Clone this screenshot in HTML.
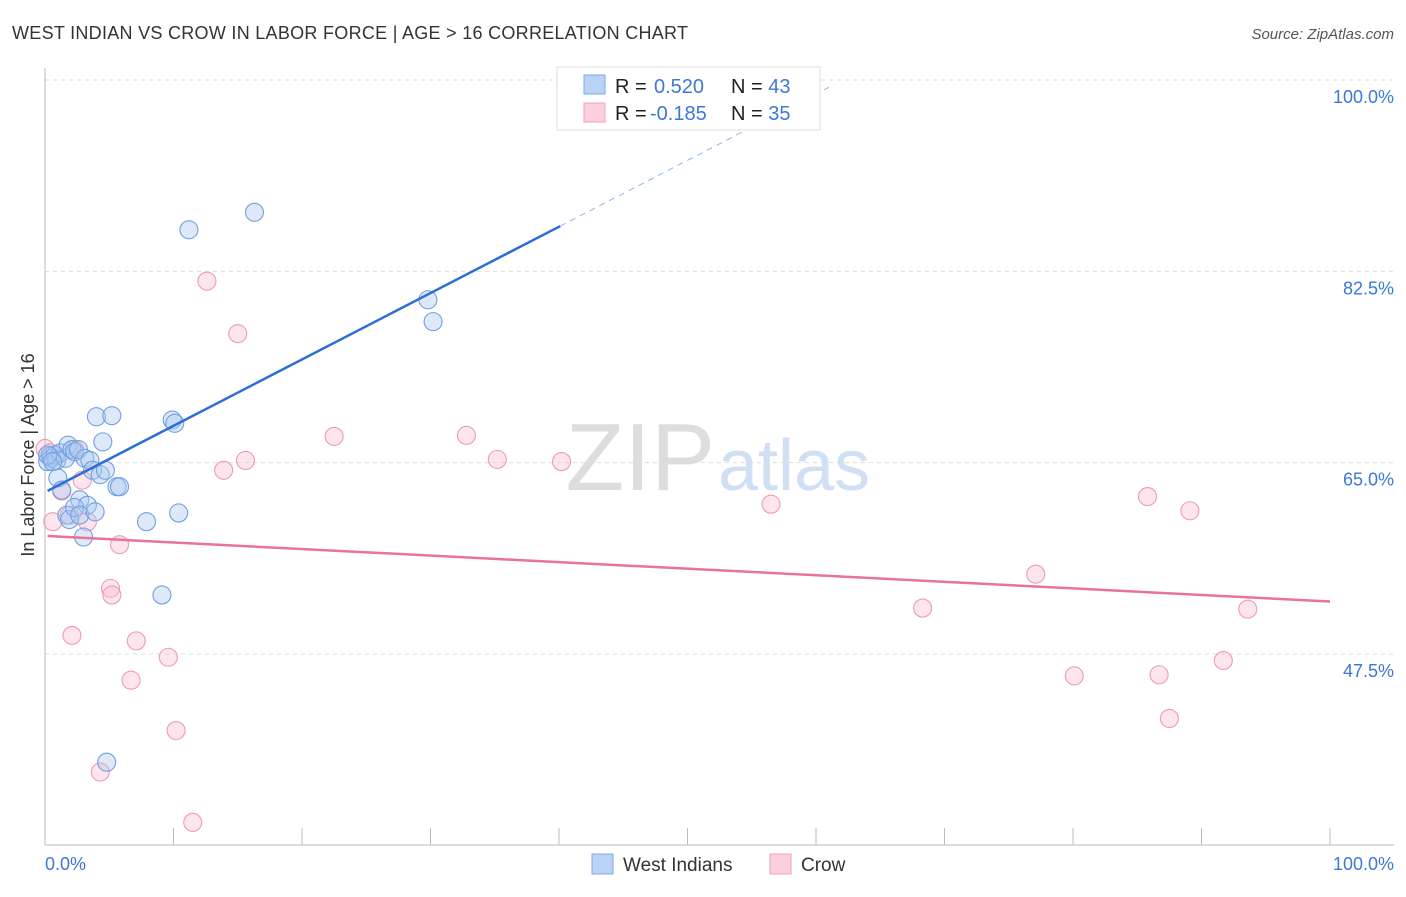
<!DOCTYPE html>
<html><head><meta charset="utf-8"><style>
body{margin:0;background:#fff;font-family:"Liberation Sans",sans-serif;}
svg text{font-family:"Liberation Sans",sans-serif;}
</style></head><body>
<svg id="chart" width="1406" height="892" xmlns="http://www.w3.org/2000/svg">
<text x="12" y="39" font-size="18" fill="#333" textLength="676">WEST INDIAN VS CROW IN LABOR FORCE | AGE &gt; 16 CORRELATION CHART</text>
<text x="1394" y="39" font-size="15" fill="#555" font-style="italic" text-anchor="end">Source: ZipAtlas.com</text>
<text x="715" y="490" font-size="96" fill="#ddd" text-anchor="end" font-family="Liberation Serif">ZIP</text>
<text x="718" y="490" font-size="72" fill="#cfe0f5">atlas</text>
<g id="grid"></g>
<g id="axes"></g>
<g id="marks"></g>
<text transform="translate(34,455) rotate(-90)" font-size="18" fill="#333" text-anchor="middle">In Labor Force | Age &gt; 16</text>
<text x="45" y="870" font-size="18" fill="#3b78d8">0.0%</text>
<text x="1394" y="870" font-size="18" fill="#3b78d8" text-anchor="end">100.0%</text>
<g>
<rect x="557" y="67" width="263" height="63" fill="#fff" stroke="#ddd"/>
<rect x="584" y="75" width="21" height="19" fill="#b9d3f5" stroke="#7fa9e4"/>
<rect x="584" y="103" width="21" height="19" fill="#fbd0dc" stroke="#f0a2ba"/>
<text x="615" y="93" font-size="20" fill="#222">R = <tspan fill="#3b78d8" x="654">0.520</tspan><tspan x="731" fill="#222">N = </tspan><tspan fill="#3b78d8">43</tspan></text>
<text x="615" y="120" font-size="20" fill="#222">R = <tspan fill="#3b78d8" x="650">-0.185</tspan><tspan x="731" fill="#222">N = </tspan><tspan fill="#3b78d8">35</tspan></text>
</g>
<g>
<rect x="592" y="854" width="21" height="20" fill="#b9d3f5" stroke="#7fa9e4"/>
<text x="623" y="871" font-size="19" fill="#333">West Indians</text>
<rect x="770" y="854" width="21" height="20" fill="#fbd0dc" stroke="#f0a2ba"/>
<text x="801" y="871" font-size="19" fill="#333">Crow</text>
</g>
</svg>
<script>
const yTicks=[100,82.5,65,47.5];
const yTickLabels=["100.0%","82.5%","65.0%","47.5%"];
const xTicks=[0,10,20,30,40,50,60,70,80,90,100];
const blueX=[0.2,0.4,0.5,0.8,0.9,1.2,1.0,1.3,1.6,1.8,2.1,2.3,2.6,2.7,3.1,3.3,3.5,3.7,4.0,4.3,4.5,4.7,5.2,5.6,5.8,1.7,1.9,2.3,2.7,3.9,3.0,7.9,9.9,10.1,10.4,9.1,4.8,11.2,16.3,29.8,30.2,0.2,0.6];
const blueY=[65.1,65.6,65.4,65.7,65.2,65.9,63.6,62.5,65.4,66.6,66.2,66.0,66.2,61.6,65.4,61.1,65.2,64.3,69.2,63.9,66.9,64.3,69.3,62.8,62.8,60.2,59.8,60.9,60.2,60.5,58.2,59.6,68.9,68.6,60.4,52.9,37.6,86.3,87.9,79.9,77.9,65.7,65.1];
const pinkX=[0,0.4,0.6,1.3,1.9,2.1,2.3,2.9,3.3,5.1,5.2,5.8,6.7,7.1,9.6,10.2,4.3,11.5,12.6,15.0,13.9,15.6,22.5,32.8,35.2,40.2,56.5,68.3,77.1,80.1,85.8,86.7,87.5,89.1,91.7,93.6];
const pinkY=[66.3,65.9,59.6,62.4,60.2,49.2,66.2,63.4,59.6,53.5,52.9,57.5,45.1,48.7,47.2,40.5,36.7,32.1,81.6,76.8,64.3,65.2,67.4,67.5,65.3,65.1,61.2,51.7,54.8,45.5,61.9,45.6,41.6,60.6,46.9,51.6];
const blueTrend=[62.3,0.607];
const pinkTrend=[58.3,-0.06];
const NS="http://www.w3.org/2000/svg";
const X=v=>45+v*12.85;
const Y=v=>80+(100-v)*10.933;
function mk(tag,attrs,parent){const e=document.createElementNS(NS,tag);for(const k in attrs)e.setAttribute(k,attrs[k]);parent.appendChild(e);return e;}
const grid=document.getElementById('grid'),axes=document.getElementById('axes'),marks=document.getElementById('marks');
yTicks.forEach((t,i)=>{
 const l=mk('line',{x1:45,x2:1394,y1:Y(t),y2:Y(t),stroke:'#ddd','stroke-dasharray':'4,4'},grid);
 
 
 const tx=mk('text',{x:1394,y:Y(t)+23,'font-size':18,fill:'#3b78d8','text-anchor':'end'},axes);
 tx.textContent=yTickLabels[i];
 
 
});
mk('line',{x1:45,x2:45,y1:68,y2:845,stroke:'#bbb'},axes);
mk('line',{x1:45,x2:1394,y1:845,y2:845,stroke:'#bbb'},axes);
xTicks.forEach(t=>{
 const l=mk('line',{x1:X(t),x2:X(t),y1:828,y2:845,stroke:'#bbb'},axes);
 
 
});
function dots(xs,ys,fill,stroke,name){xs.forEach((x,i)=>{
 const c=mk('circle',{cx:X(x),cy:Y(ys[i]),r:9,fill:fill,'fill-opacity':0.4,stroke:stroke,'stroke-width':1.1},marks);
 
 
});}
dots(pinkX,pinkY,'#f7bfd0','#ee9ab5','crow-point');
dots(blueX,blueY,'#a9c8f0','#6fa0e0','west-indian-point');
const b1=mk('line',{x1:X(0.2),y1:Y(blueTrend[0]+blueTrend[1]*0.2),x2:X(40.1),y2:Y(blueTrend[0]+blueTrend[1]*40.1),stroke:'#2a6fd6','stroke-width':2.5},marks);


const b2=mk('line',{x1:X(40.1),y1:Y(blueTrend[0]+blueTrend[1]*40.1),x2:X(61),y2:Y(blueTrend[0]+blueTrend[1]*61),stroke:'#8fb5e8','stroke-width':1,'stroke-dasharray':'6,5'},marks);


const p1=mk('line',{x1:X(0.2),y1:Y(pinkTrend[0]+pinkTrend[1]*0.2),x2:X(100),y2:Y(pinkTrend[0]+pinkTrend[1]*100),stroke:'#e8729a','stroke-width':2.5},marks);


</script>
</body></html>
